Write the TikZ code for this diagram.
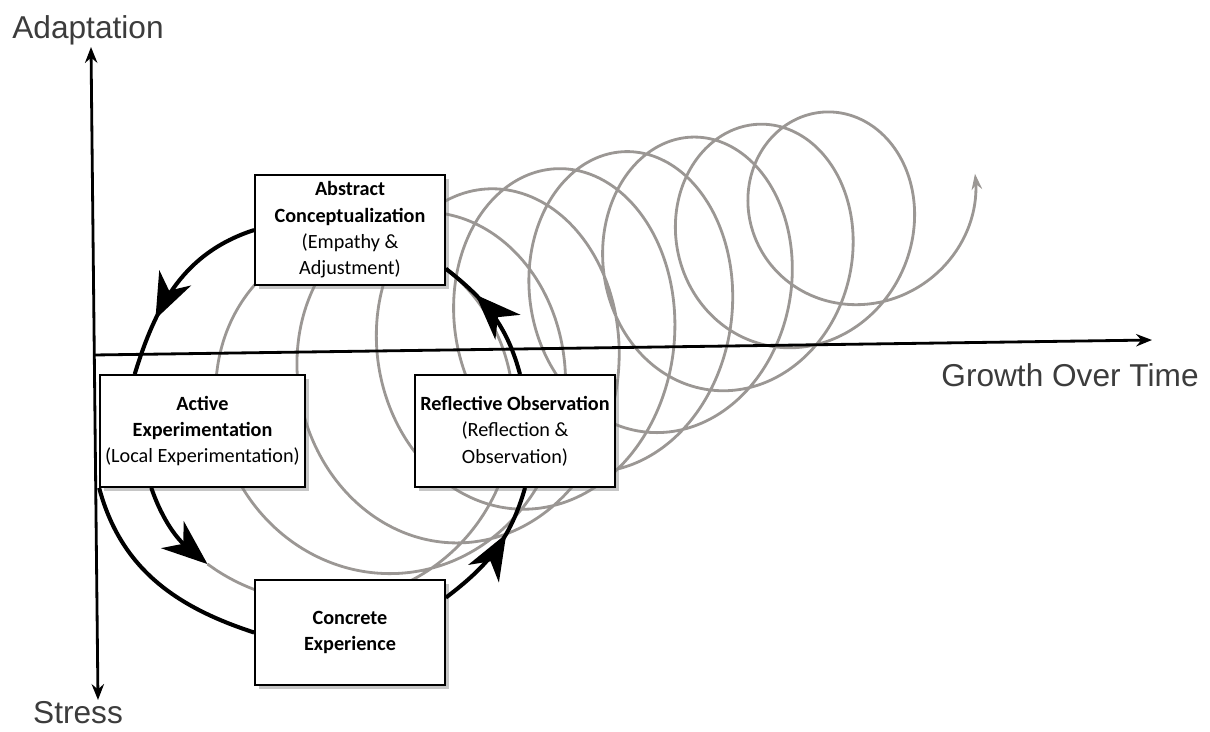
\documentclass[tikz,border=0pt]{standalone}
\usepackage{fontspec}
\setmainfont{Carlito}
\newfontfamily\axisfont{Liberation Sans}
\usepackage{xcolor}
\usetikzlibrary{arrows.meta, shadows, decorations.markings, backgrounds}
\definecolor{spiralgray}{RGB}{155,151,148}
\definecolor{labelgray}{RGB}{60,60,60}

\begin{document}
\begin{tikzpicture}[x=0.02cm, y=0.02cm, > = {Stealth[length=9pt, width=7pt]},
	stage/.style = {draw, line width=1pt, fill=white, align=center, inner sep=2pt,
		font=\fontsize{11.5}{15}\selectfont,
		drop shadow={shadow xshift=2.5pt, shadow yshift=-2.5pt, opacity=0.45}},
	kolb/.style = {line width=2.3pt},
	axis/.style = {line width=1.6pt},
	spiral/.style = {line width=1.6pt, spiralgray},
	bighead/.style = {-{Stealth[length=26pt, width=20pt, inset=8pt]}},
	midarrow/.style = {postaction={decorate}, decoration={markings,
		mark=at position #1 with {\arrow{Stealth[length=26pt, width=20pt, inset=8pt]}}}},
	axislabel/.style = {font=\axisfont\fontsize{18}{20}\selectfont, text=labelgray}]
	\useasboundingbox (0,0) rectangle (1210,731);
	
	\node [stage, minimum width=3.8cm, minimum height=2.2cm] (abs) at (350,501)
		{\textbf{Abstract}\\\textbf{Conceptualization}\\(Empathy \&\\Adjustment)};
	\node [stage, minimum width=4.1cm, minimum height=2.24cm] (act) at (202.5,300)
		{\textbf{Active}\\\textbf{Experimentation}\\(Local Experimentation)};
	\node [stage, minimum width=4.0cm, minimum height=2.24cm] (ref) at (515,300)
		{\textbf{Reflective Observation}\\(Reflection \&\\Observation)};
	\node [stage, minimum width=3.8cm, minimum height=2.1cm] (con) at (350,98.5)
		{\textbf{Concrete}\\\textbf{Experience}};
	
	\node [axislabel] (adapt) at (88,701) {Adaptation};
	\node [axislabel] (stress) at (78,18) {Stress};
	\node [axislabel] (growth) at (1070,356) {Growth Over Time};
	
	\coordinate (ytop) at (91,684);
	\coordinate (ybottom) at (98,31);
	\coordinate (xstart) at (94,376);
	\coordinate (xend) at (1152,391);
	\coordinate (spstart) at (207.5,166.9);
	
	\begin{scope}[on background layer]
		\draw [spiral, -{Stealth[length=9pt, width=6pt]}] plot [smooth, domain=0:1, samples=800, variable=\s]
			({320 + 563*\s + (175-80*\s)*(1-0.1*sin(180*\s))*cos(230+3025*\s)},
			 {301 + 233*\s + (175-80*\s)*(1+0.15*sin(180*\s))*sin(230+3025*\s)});
		\draw [axis, <->] (ybottom) -- (ytop);
		\draw [axis, ->] (xstart) -- (xend);
	\end{scope}
	
	\draw [kolb, midarrow=0.7] (abs.west) to [out=198, in=73] (act.140);
	\draw [kolb] (act.south west) to [out=285, in=162] (con.west);
	\draw [kolb, bighead] (act.228) to [out=289, in=140] (spstart);
	\draw [kolb, midarrow=0.64] (con.20) to [out=37, in=254] (ref.280);
	\draw [kolb, midarrow=0.7] (ref.85) to [out=105, in=322] (abs.338);
\end{tikzpicture}
\end{document}
